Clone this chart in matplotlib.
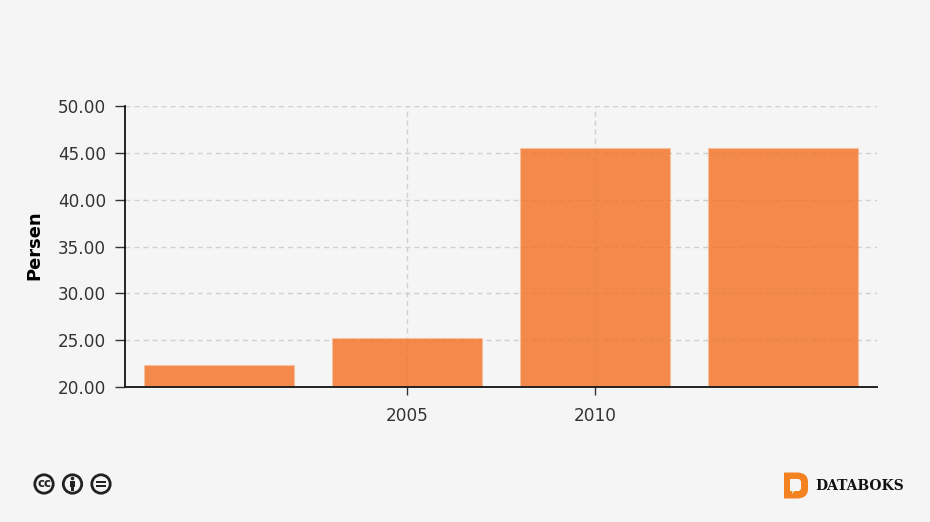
import matplotlib
matplotlib.use("Agg")
import matplotlib.pyplot as plt
from matplotlib.patches import Circle, PathPatch, Polygon, Rectangle
from matplotlib.path import Path

categories = ["", "2005", "2010", ""]
values = [22.3, 25.2, 45.5, 45.5]
y_ticks = [20, 25, 30, 35, 40, 45, 50]
y_label = "Persen"
BG = "#f5f5f5"
W, H = 930, 522

plt.rcParams["font.family"] = "DejaVu Sans"
fig = plt.figure(figsize=(W / 100, H / 100), dpi=100, facecolor=BG)
ax = fig.add_axes([125 / W, 1 - 387 / H, (877 - 125) / W, (387 - 106) / H], facecolor=BG)

ax.bar(range(len(values)), values, width=0.8, facecolor=(0.953, 0.44, 0.13, 0.8),
       edgecolor=(0.98, 0.75, 0.6, 0.6), linewidth=0.8, zorder=1)
ax.set_xlim(-0.5, 3.5)
ax.set_ylim(20, 50)
ax.set_yticks(y_ticks)
ax.set_yticklabels([f"{v:.2f}" for v in y_ticks], fontsize=12.2, color="#333333")
ax.set_xticks([1, 2])
ax.set_xticklabels(categories[1:3], fontsize=12.2, color="#333333")
ax.tick_params(axis="y", length=7.2, width=1.0, color="#333333", pad=6.5)
ax.tick_params(axis="x", length=6, width=1.0, color="#333333", pad=8.5)
ax.set_axisbelow(True)
ax.grid(True, color="#cfcfcf", linestyle=(0, (3.6, 2.9)), linewidth=1.0)
for s in ("top", "right"):
    ax.spines[s].set_visible(False)
ax.spines["left"].set_color("black")
ax.spines["left"].set_linewidth(1.2)
ax.spines["bottom"].set_color("#222222")
ax.spines["bottom"].set_linewidth(1.4)
ax.set_ylabel(y_label, fontsize=12.9, fontweight="bold", color="black", va="center")
ax.yaxis.set_label_coords((34 - 125) / (877 - 125), 0.505)

ov = fig.add_axes([0, 0, 1, 1], facecolor="none")
ov.set_xlim(0, W)
ov.set_ylim(H, 0)
ov.axis("off")

# licence badges
for cx in (44, 72.5, 101):
    ov.add_patch(Circle((cx, 484), 9.2, fc="#f5f5f5", ec="#222222", lw=2))
ov.text(44, 483.5, "cc", ha="center", va="center", fontsize=8.5, fontweight="bold", color="#222222")
ov.add_patch(Circle((72.5, 478.5), 1.8, fc="#222222", ec="none"))
ov.add_patch(Rectangle((70, 481), 5, 5.5, fc="#222222", ec="none"))
ov.add_patch(Rectangle((71.2, 486), 2.6, 5, fc="#222222", ec="none"))
ov.add_patch(Rectangle((96, 480.8), 10, 2, fc="#222222", ec="none"))
ov.add_patch(Rectangle((96, 485.2), 10, 2, fc="#222222", ec="none"))

# logo
verts = [(784, 472.5), (797, 472.5), (808, 472.5), (808, 482), (808, 489),
         (808, 498.5), (797, 498.5), (784, 498.5), (784, 472.5)]
codes = [Path.MOVETO, Path.LINETO, Path.CURVE3, Path.CURVE3, Path.LINETO,
         Path.CURVE3, Path.CURVE3, Path.LINETO, Path.CLOSEPOLY]
ov.add_patch(PathPatch(Path(verts, codes), fc="#f58220", ec="none"))
ov.add_patch(Polygon([(790, 479), (799, 479), (801, 481), (801, 489), (799, 491),
                      (794.5, 491), (792, 494), (792.5, 491), (790, 491)],
                     closed=True, fc="#f5f5f5", ec="none"))
ov.text(815, 486, "DATABOKS", ha="left", va="center", fontsize=10,
        fontweight="bold", family="DejaVu Serif", color="#111111")

fig.savefig("out.png", dpi=100, facecolor=BG)
